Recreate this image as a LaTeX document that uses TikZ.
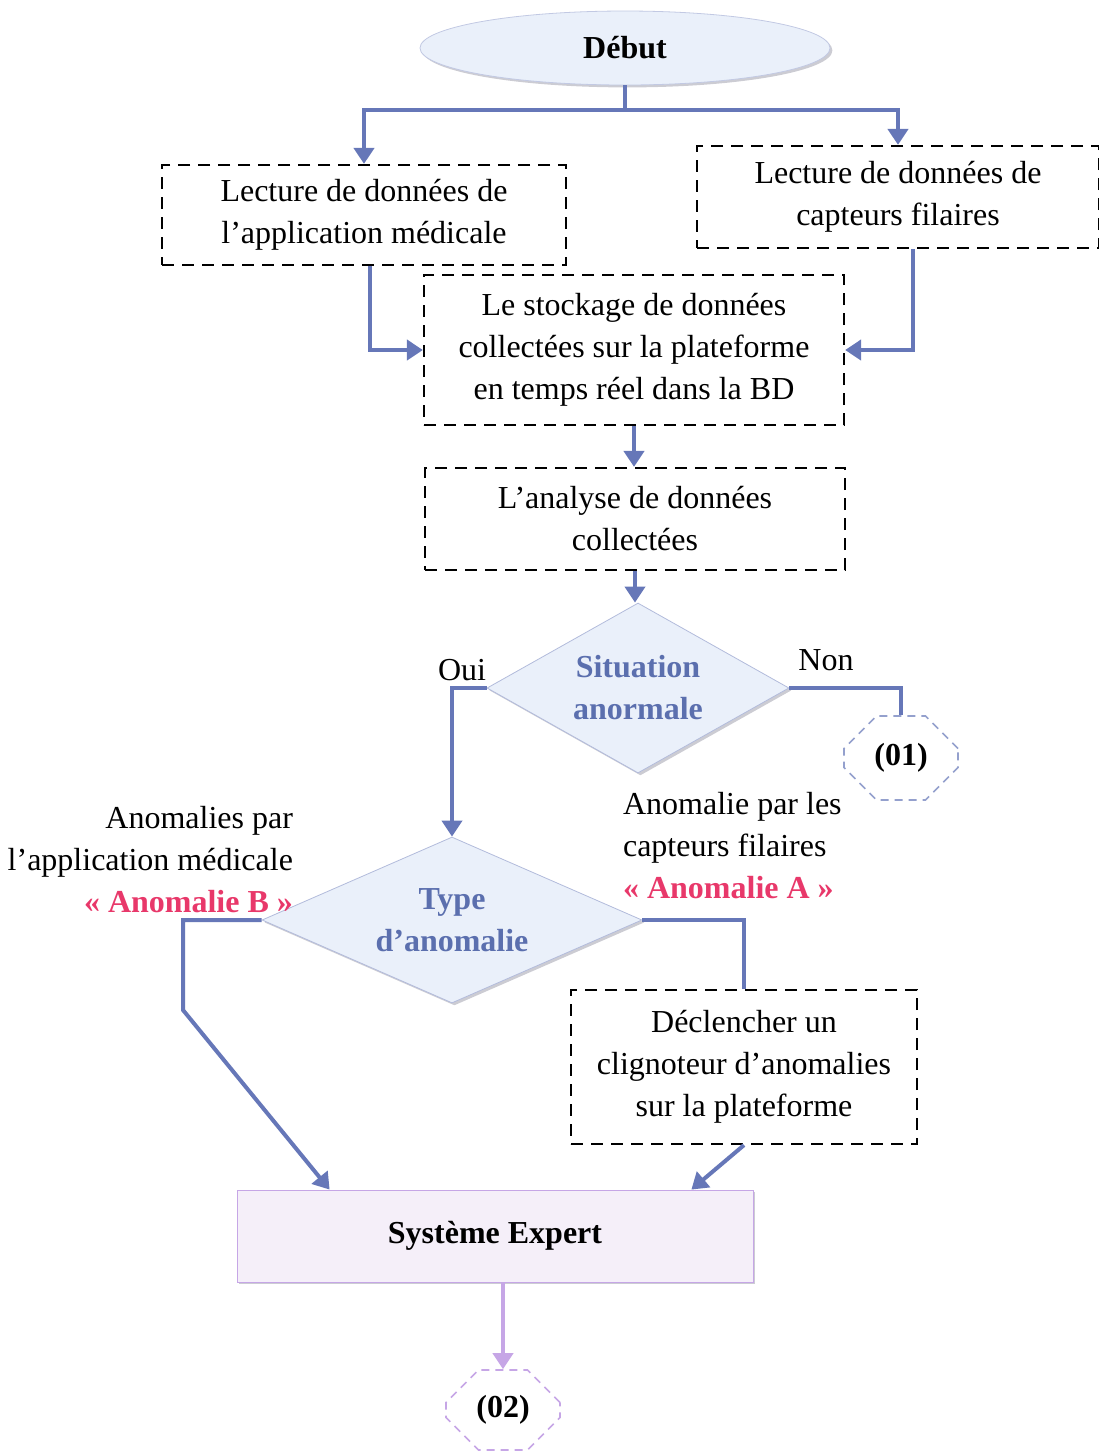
\documentclass[tikz,border=0pt]{standalone}
\usepackage{fontspec}
\setmainfont{Liberation Serif}
\usetikzlibrary{arrows.meta,calc,shapes.geometric,shapes.misc,shadows}
\definecolor{trait}{HTML}{6677B8}
\definecolor{bleutexte}{HTML}{5B6FAE}
\definecolor{ciel}{HTML}{EAF0FA}
\definecolor{rose}{HTML}{E8386A}
\definecolor{lavande}{HTML}{C6A6E6}
\definecolor{lavclair}{HTML}{F5EFF9}
\definecolor{ombre}{HTML}{9A9AA8}

\tikzset{
  boite/.style={draw=black, line width=1.1pt, dash pattern=on 6pt off 4pt,
    align=center, inner sep=0pt},
  losange/.style={diamond, aspect=2, draw=trait!50, fill=ciel, align=center,
    inner sep=0pt, text=bleutexte, font=\fontsize{16}{21}\selectfont\bfseries,
    drop shadow={shadow xshift=1.2pt, shadow yshift=-1.2pt, fill=ombre}},
  renvoi/.style={chamfered rectangle, chamfered rectangle xsep=9pt,
    chamfered rectangle ysep=9pt, line width=0.8pt,
    dash pattern=on 4pt off 3pt, font=\fontsize{16}{21}\selectfont\bfseries,
    inner sep=0pt},
  lien/.style={draw=trait, line width=2pt},
  fleche/.style={lien, -{Triangle[length=8pt,width=10pt]}}
}

\begin{document}
\begin{tikzpicture}[x=0.5pt, y=-0.5pt, font=\fontsize{16}{21}\selectfont]
  \useasboundingbox (0,0) rectangle (1099,1453);

  % debut
  \node[ellipse, draw=trait!40, fill=ciel, minimum width=205pt, minimum height=37pt,
    font=\fontsize{16}{20}\selectfont\bfseries,
    drop shadow={shadow xshift=1.2pt, shadow yshift=-1.2pt, fill=ombre}]
    (debut) at (625,48) {Début};

  % lecture des donnees
  \node[boite, minimum width=202pt, minimum height=50pt] (lect1) at (364,215)
    {Lecture de données de\\l’application médicale};
  \node[boite, minimum width=201pt, minimum height=51pt] (lect2) at (898,197)
    {Lecture de données de\\capteurs filaires};

  % stockage et analyse
  \node[boite, minimum width=210pt, minimum height=75pt] (stock) at (634,350)
    {Le stockage de données\\collectées sur la plateforme\\en temps réel dans la BD};
  \node[boite, minimum width=210pt, minimum height=51pt] (analyse) at (635,519)
    {L’analyse de données\\collectées};

  % decisions
  \node[losange, minimum width=151pt, minimum height=85pt] (sit) at (638,688)
    {Situation\\anormale};
  \node[losange, minimum width=190pt, minimum height=83pt] (type) at (452,920)
    {Type\\d’anomalie};

  \node[renvoi, draw=trait!70, minimum width=57pt, minimum height=42pt] (ret1) at (901,758) {(01)};

  \node[boite, minimum width=173pt, minimum height=77pt] (decl) at (744,1067)
    {Déclencher un\\clignoteur d’anomalies\\sur la plateforme};

  \node[draw=lavande, fill=lavclair, minimum width=258pt, minimum height=46pt,
    font=\fontsize{16}{20}\selectfont\bfseries,
    drop shadow={shadow xshift=1.2pt, shadow yshift=-1.2pt, fill=ombre}]
    (sys) at (495,1236) {Système Expert};

  \node[renvoi, draw=lavande, minimum width=57pt, minimum height=40pt] (ret2) at (503,1410) {(02)};

  % etiquettes
  \node (oui) at (462,670) {Oui};
  \node (non) at (826,660) {Non};
  \node[anchor=east, align=right] (etiqB) at (300,860)
    {Anomalies par\\l’application médicale\\{\color{rose}\bfseries « Anomalie B »}};
  \node[anchor=west, align=left] (etiqA) at (616,846)
    {Anomalie par les\\capteurs filaires\\{\color{rose}\bfseries « Anomalie A »}};

  % liaisons
  \coordinate (bifur) at (625,110);
  \coordinate (coude) at (183,1010);
  \draw[lien] (debut.south) -- (bifur);
  \draw[fleche] (bifur) -| (lect1.north);
  \draw[fleche] (bifur) -| (lect2.north);
  \draw[fleche] ([xshift=3pt]lect1.south) |- (stock.west);
  \draw[fleche] ([xshift=7.5pt]lect2.south) |- (stock.east);
  \draw[fleche] (stock.south) -- (stock.south |- analyse.north);
  \draw[fleche] (analyse.south) -- (analyse.south |- sit.north);
  \draw[fleche] (sit.west) -| (type.north);
  \draw[lien] (sit.east) -| (ret1.north);
  \draw[fleche] (type.west) -| (coude) -- ($(sys.north west)!0.18!(sys.north east)$);
  \draw[lien] (type.east) -| (decl.north);
  \draw[fleche] (decl.south) -- ($(sys.north west)!0.88!(sys.north east)$);
  \draw[lien, draw=lavande, -{Triangle[length=8pt,width=10pt]}] (ret2.north |- sys.south) -- (ret2.north);
\end{tikzpicture}
\end{document}
